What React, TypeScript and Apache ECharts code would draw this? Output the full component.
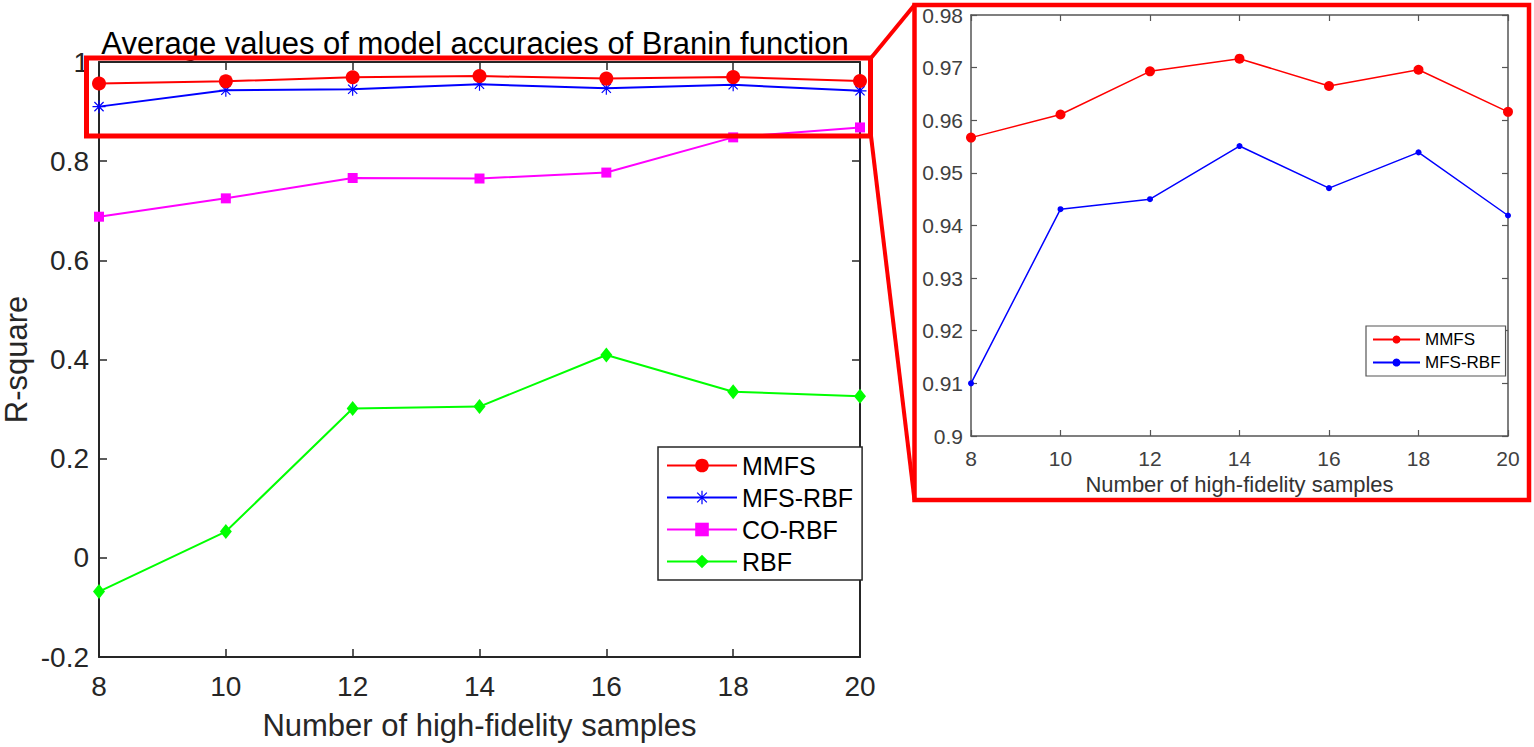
import React, { useEffect, useRef } from "react";
import * as echarts from "echarts";

// ---------------- data ----------------
const sampleCounts = [8, 10, 12, 14, 16, 18, 20];
const mmfsValues = [0.9567, 0.9611, 0.9693, 0.9717, 0.9665, 0.9696, 0.9616];
const mfsRbfValues = [0.91, 0.9431, 0.945, 0.9551, 0.9471, 0.9539, 0.9419];
const coRbfValues = [0.688, 0.725, 0.766, 0.765, 0.777, 0.848, 0.868];
const rbfValues = [-0.068, 0.053, 0.301, 0.305, 0.409, 0.335, 0.326];

const seriesNames = ["MMFS", "MFS-RBF", "CO-RBF", "RBF"];
const insetSuffix = " (inset)";
const titleText = "Average values of model accuracies of Branin function";
const xAxisTitle = "Number of high-fidelity samples";
const yAxisTitle = "R-square";

const FONT = "'Liberation Sans', Arial, Helvetica, sans-serif";

const pairs = (ys: number[]) => sampleCounts.map((x, i) => [x, ys[i]]);

function asteriskSymbol(): string {
  const L = 10;
  const w = 0.9;
  let d = "";
  [0, 45, 90, 135].forEach((deg) => {
    const t = (deg * Math.PI) / 180;
    const dx = Math.cos(t), dy = Math.sin(t);
    const nx = -dy, ny = dx;
    const p = [
      [L * dx + w * nx, L * dy + w * ny],
      [L * dx - w * nx, L * dy - w * ny],
      [-L * dx - w * nx, -L * dy - w * ny],
      [-L * dx + w * nx, -L * dy + w * ny],
    ];
    d +=
      "M" + p.map((q) => q[0].toFixed(3) + " " + q[1].toFixed(3)).join(" L") + " Z ";
  });
  return "path://" + d;
}

export default function App() {
  const ref = useRef<HTMLDivElement>(null);

  useEffect(() => {
    if (!ref.current) return;
    const chart = echarts.init(ref.current, null, { renderer: "svg" });

    const axisDark = "#262626";
    const axisGray = "#555555";

    const mainX = (position: "bottom" | "top", showLabel: boolean) => ({
      type: "value",
      gridIndex: 0,
      position,
      min: 8,
      max: 20,
      interval: 2,
      name: showLabel ? xAxisTitle : "",
      nameLocation: "middle",
      nameGap: 53,
      nameTextStyle: { fontSize: 31, color: axisDark, fontFamily: FONT },
      axisLine: { show: true, onZero: false, lineStyle: { color: axisDark, width: 2 } },
      axisTick: { show: true, inside: true, length: 8, lineStyle: { color: axisDark, width: 1.5 } },
      axisLabel: {
        show: showLabel,
        margin: 15,
        fontSize: 28,
        color: axisDark,
        fontFamily: FONT,
      },
      splitLine: { show: false },
    });

    const mainY = (position: "left" | "right", showLabel: boolean) => ({
      type: "value",
      gridIndex: 0,
      position,
      min: -0.2,
      max: 1,
      interval: 0.2,
      name: showLabel ? yAxisTitle : "",
      nameLocation: "middle",
      nameGap: 67,
      nameTextStyle: { fontSize: 31, color: axisDark, fontFamily: FONT },
      axisLine: { show: true, onZero: false, lineStyle: { color: axisDark, width: 2 } },
      axisTick: { show: true, inside: true, length: 8, lineStyle: { color: axisDark, width: 1.5 } },
      axisLabel: {
        show: showLabel,
        margin: 10,
        fontSize: 28,
        color: axisDark,
        fontFamily: FONT,
        formatter: (v: number) => String(Math.round(v * 10) / 10),
      },
      splitLine: { show: false },
    });

    const insetX = (position: "bottom" | "top", showLabel: boolean) => ({
      type: "value",
      gridIndex: 1,
      position,
      min: 8,
      max: 20,
      interval: 2,
      name: showLabel ? xAxisTitle : "",
      nameLocation: "middle",
      nameGap: 37,
      nameTextStyle: { fontSize: 22, color: "#333", fontFamily: FONT },
      axisLine: { show: true, onZero: false, lineStyle: { color: axisGray, width: 1.5 } },
      axisTick: { show: true, inside: true, length: 6, lineStyle: { color: axisGray, width: 1.2 } },
      axisLabel: { show: showLabel, margin: 12, fontSize: 21, color: "#404040", fontFamily: FONT },
      splitLine: { show: false },
    });

    const insetY = (position: "left" | "right", showLabel: boolean) => ({
      type: "value",
      gridIndex: 1,
      position,
      min: 0.9,
      max: 0.98,
      interval: 0.01,
      axisLine: { show: true, onZero: false, lineStyle: { color: axisGray, width: 1.5 } },
      axisTick: { show: true, inside: true, length: 6, lineStyle: { color: axisGray, width: 1.2 } },
      axisLabel: {
        show: showLabel,
        margin: 8,
        fontSize: 21,
        color: "#404040",
        fontFamily: FONT,
        formatter: (v: number) => String(parseFloat(v.toFixed(2))),
      },
      splitLine: { show: false },
    });

    const colors = ["#ff0000", "#0000ff", "#ff00ff", "#00ff00"];
    const mainSymbols = ["circle", asteriskSymbol(), "rect", "diamond"];
    const mainSizes: any[] = [14, 13, 10, [12, 15]];
    const mainData = [mmfsValues, mfsRbfValues, coRbfValues, rbfValues];

    const mainSeries = seriesNames.map((name, i) => ({
      name,
      type: "line",
      xAxisIndex: 0,
      yAxisIndex: 0,
      data: pairs(mainData[i]),
      symbol: mainSymbols[i],
      symbolSize: mainSizes[i],
      lineStyle: { color: colors[i], width: 2 },
      itemStyle: { color: colors[i] },
      z: 3 + (3 - i),
    }));

    const insetSeries = [
      {
        name: seriesNames[0] + insetSuffix,
        type: "line",
        xAxisIndex: 2,
        yAxisIndex: 2,
        data: pairs(mmfsValues),
        symbol: "circle",
        symbolSize: 10,
        lineStyle: { color: colors[0], width: 1.5 },
        itemStyle: { color: colors[0] },
      },
      {
        name: seriesNames[1] + insetSuffix,
        type: "line",
        xAxisIndex: 2,
        yAxisIndex: 2,
        data: pairs(mfsRbfValues),
        symbol: "circle",
        symbolSize: 6,
        lineStyle: { color: colors[1], width: 1.5 },
        itemStyle: { color: colors[1] },
      },
    ];

    const option: any = {
      animation: false,
      backgroundColor: "#ffffff",
      textStyle: { fontFamily: FONT },
      grid: [
        { left: 98, top: 62, width: 762, height: 595, containLabel: false },
        { left: 971, top: 15, width: 537, height: 421, containLabel: false },
      ],
      xAxis: [mainX("bottom", true), mainX("top", false), insetX("bottom", true), insetX("top", false)],
      yAxis: [mainY("left", true), mainY("right", false), insetY("left", true), insetY("right", false)],
      legend: [
        {
          orient: "vertical",
          left: 658,
          top: 447,
          data: seriesNames,
          itemWidth: 70,
          itemHeight: 17,
          itemGap: 7,
          padding: [6, 9, 6, 8],
          borderColor: axisDark,
          borderWidth: 1.5,
          backgroundColor: "#ffffff",
          selectedMode: false,
          textStyle: { fontSize: 25, lineHeight: 25, color: "#000", fontFamily: FONT },
          z: 20,
        },
        {
          orient: "vertical",
          left: 1366,
          top: 326,
          data: [seriesNames[0] + insetSuffix, seriesNames[1] + insetSuffix],
          formatter: (n: string) => n.replace(insetSuffix, ""),
          itemWidth: 47,
          itemHeight: 10,
          itemGap: 6,
          padding: [5, 5, 5, 6],
          borderColor: axisGray,
          borderWidth: 1.2,
          backgroundColor: "#ffffff",
          selectedMode: false,
          textStyle: { fontSize: 17, lineHeight: 17, color: "#000", fontFamily: FONT },
          z: 20,
        },
      ],
      graphic: [
        {
          type: "text",
          x: 475,
          y: 43,
          z: 1,
          style: {
            text: titleText,
            fontSize: 31,
            fontFamily: FONT,
            fill: "#000000",
            align: "center",
            verticalAlign: "middle",
          },
        },
        {
          type: "rect",
          z: 100,
          shape: { x: 86.5, y: 58, width: 784, height: 78 },
          style: { fill: "transparent", stroke: "#ff0000", lineWidth: 5 },
        },
        {
          type: "rect",
          z: 100,
          shape: { x: 914.5, y: 5, width: 614.5, height: 495 },
          style: { fill: "transparent", stroke: "#ff0000", lineWidth: 4.5 },
        },
        {
          type: "line",
          z: 100,
          shape: { x1: 871, y1: 58, x2: 914.5, y2: 5 },
          style: { stroke: "#ff0000", lineWidth: 4 },
        },
        {
          type: "line",
          z: 100,
          shape: { x1: 871, y1: 136, x2: 914.5, y2: 500 },
          style: { stroke: "#ff0000", lineWidth: 4 },
        },
      ],
      series: [...mainSeries, ...insetSeries],
    };

    chart.setOption(option);
    return () => chart.dispose();
  }, []);

  return (
    <div
      ref={ref}
      style={{ position: "fixed", left: 0, top: 0, width: 1534, height: 747, background: "#fff" }}
    />
  );
}
